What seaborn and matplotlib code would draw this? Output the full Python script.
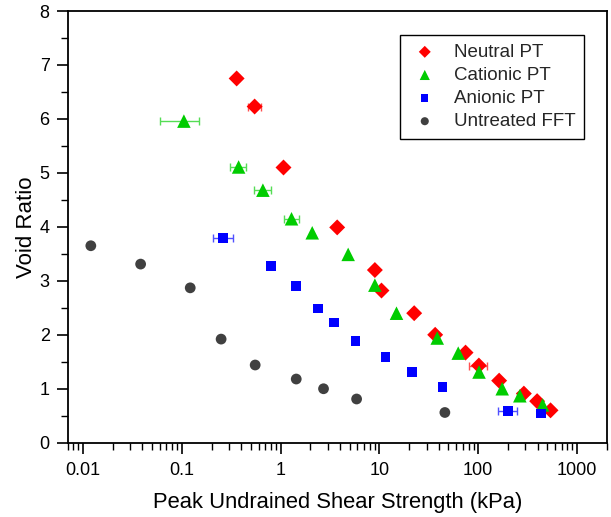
import numpy as np
import pandas as pd
import matplotlib
matplotlib.use("Agg")
import matplotlib.pyplot as plt
import seaborn as sns
from matplotlib.ticker import LogLocator, FixedLocator, MultipleLocator, NullFormatter

# ---------------- data ----------------
neutral_x = [0.359, 0.546, 1.07, 3.74, 9.0, 10.5, 22.5, 36.7, 74.5, 101.6, 163, 290, 395, 540]
neutral_y = [6.75, 6.23, 5.10, 3.99, 3.20, 2.82, 2.40, 2.00, 1.67, 1.43, 1.15, 0.91, 0.77, 0.60]
neutral_xerr_lo = [0.02, 0.08, 0, 0, 0, 0, 0, 0, 0, 21, 0, 0, 0, 0]
neutral_xerr_hi = [0.02, 0.09, 0, 0, 0, 0, 0, 0, 0, 20, 0, 0, 0, 0]

cationic_x = [0.105, 0.376, 0.662, 1.29, 2.09, 4.83, 9.0, 14.9, 38.5, 62.8, 102, 175, 264, 449]
cationic_y = [5.96, 5.11, 4.68, 4.15, 3.89, 3.49, 2.92, 2.40, 1.94, 1.66, 1.31, 1.00, 0.87, 0.70]
cationic_xerr_lo = [0.045, 0.07, 0.12, 0.2, 0, 0, 0, 0, 0, 0, 0, 0, 15, 0]
cationic_xerr_hi = [0.045, 0.07, 0.14, 0.24, 0, 0, 0, 0, 0, 0, 0, 0, 15, 0]

anionic_x = [0.262, 0.80, 1.44, 2.40, 3.49, 5.74, 11.5, 21.5, 43.6, 200, 434]
anionic_y = [3.79, 3.28, 2.90, 2.49, 2.23, 1.89, 1.59, 1.31, 1.03, 0.59, 0.54]
anionic_xerr_lo = [0.054, 0, 0, 0, 0, 0, 0, 0, 0, 43, 0]
anionic_xerr_hi = [0.065, 0, 0, 0, 0, 0, 0, 0, 0, 45, 0]

untreated_x = [0.0120, 0.0383, 0.1217, 0.250, 0.553, 1.44, 2.72, 5.88, 46]
untreated_y = [3.65, 3.31, 2.87, 1.92, 1.44, 1.18, 1.00, 0.81, 0.56]

series_names = ["Neutral PT", "Cationic PT", "Anionic PT", "Untreated FFT"]
x_tick_values = [0.01, 0.1, 1, 10, 100, 1000]
x_tick_labels = ["0.01", "0.1", "1", "10", "100", "1000"]

# ---------------- styles ----------------
colors = {"Neutral PT": "#FF0000", "Cationic PT": "#00CC00",
          "Anionic PT": "#0000FF", "Untreated FFT": "#404040"}
err_colors = {"Neutral PT": "#FF5050", "Cationic PT": "#55DD55",
              "Anionic PT": "#5050FF", "Untreated FFT": "#707070"}
markers = {"Neutral PT": "D", "Cationic PT": "^", "Anionic PT": "s", "Untreated FFT": "o"}
sizes = {"Neutral PT": 66, "Cationic PT": 95, "Anionic PT": 48, "Untreated FFT": 60}

frames = []
for name, xs, ys in [("Neutral PT", neutral_x, neutral_y),
                     ("Cationic PT", cationic_x, cationic_y),
                     ("Anionic PT", anionic_x, anionic_y),
                     ("Untreated FFT", untreated_x, untreated_y)]:
    frames.append(pd.DataFrame({"x": xs, "y": ys, "series": name}))
df = pd.concat(frames, ignore_index=True)

sns.set_theme(style="white")
plt.rcParams["font.family"] = ["Liberation Sans", "DejaVu Sans"]

fig = plt.figure(figsize=(6.11, 5.17), dpi=100)
ax = fig.add_axes([0.1108, 0.1437, 0.993 - 0.1108, 0.9787 - 0.1437])

# error bars
for name, xs, ys, lo, hi in [("Neutral PT", neutral_x, neutral_y, neutral_xerr_lo, neutral_xerr_hi),
                             ("Cationic PT", cationic_x, cationic_y, cationic_xerr_lo, cationic_xerr_hi),
                             ("Anionic PT", anionic_x, anionic_y, anionic_xerr_lo, anionic_xerr_hi)]:
    xs = np.array(xs); ys = np.array(ys); lo = np.array(lo); hi = np.array(hi)
    m = (lo > 0) | (hi > 0)
    ax.errorbar(xs[m], ys[m], xerr=[lo[m], hi[m]], fmt="none", ecolor=err_colors[name],
                elinewidth=1.0, capsize=3, capthick=1.0, zorder=2)

for name in series_names:
    sub = df[df["series"] == name]
    sns.scatterplot(data=sub, x="x", y="y", ax=ax, color=colors[name], marker=markers[name],
                    s=sizes[name], edgecolor="none", linewidth=0, label=name, zorder=3)

ax.set_xscale("log")
ax.set_xlim(0.007, 2000)
ax.set_ylim(0, 8)

ax.xaxis.set_major_locator(FixedLocator(x_tick_values))
ax.set_xticklabels(x_tick_labels)
ax.xaxis.set_minor_locator(LogLocator(base=10, subs=np.arange(2, 10), numticks=20))
ax.xaxis.set_minor_formatter(NullFormatter())
ax.yaxis.set_major_locator(MultipleLocator(1))
ax.yaxis.set_minor_locator(MultipleLocator(0.5))

ax.tick_params(axis="both", which="major", direction="out", length=8, width=1.2,
               labelsize=13, color="black", labelcolor="black",
               bottom=True, left=True, top=False, right=False)
ax.tick_params(axis="x", which="major", pad=6)
ax.tick_params(axis="y", which="major", pad=5)
ax.tick_params(axis="both", which="minor", direction="out", length=5, width=1.0,
               color="black", bottom=True, left=True, top=False, right=False)

for sp in ax.spines.values():
    sp.set_color("black")
    sp.set_linewidth(1.3)

ax.set_xlabel("Peak Undrained Shear Strength (kPa)", fontsize=15.8, color="black", labelpad=9)
ax.set_ylabel("Void Ratio", fontsize=16, color="black", labelpad=1.5)

leg = ax.legend(loc="upper right", bbox_to_anchor=(0.958, 0.944), borderaxespad=0,
                fontsize=13.5, frameon=True, fancybox=False, edgecolor="black", framealpha=1,
                handletextpad=0.69, borderpad=0.45, labelspacing=0.32, markerscale=0.75,
                handlelength=1.74)
leg.get_frame().set_linewidth(1.0)

fig.savefig("out.png", dpi=100)
